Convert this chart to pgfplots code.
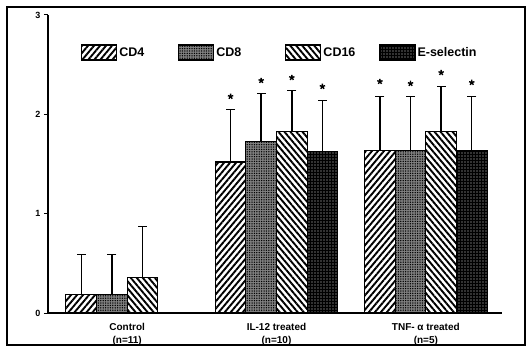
\documentclass[border=0pt]{standalone}
\usepackage{fontspec}
\setmainfont{Liberation Sans}
\usepackage{pgfplots}
\pgfplotsset{compat=1.18}
\usetikzlibrary{patterns,patterns.meta}
\begin{document}
\begin{tikzpicture}
\useasboundingbox (0pt,0pt) rectangle (529pt,351pt);
\draw[line width=1.4pt] (7pt,6pt) rectangle (525pt,344pt);
\begin{axis}[
  at={(48pt,38pt)}, anchor=south west,
  width=454pt, height=298pt, scale only axis,
  xmin=-0.53, xmax=2.51, ymin=0, ymax=3,
  axis lines=left, axis line style={-, line width=1.3pt},
  xtick={0,1,2},
  xticklabels={{Control\\(n=11)},{IL-12 treated\\(n=10)},{TNF- α treated\\(n=5)}},
  xticklabel style={align=center, font=\bfseries\fontsize{10}{13.5}\selectfont, yshift=-2.5pt},
  x tick style={draw=none},
  ytick={0,1,2,3},
  yticklabel style={font=\bfseries\fontsize{9}{10}\selectfont},
  y tick style={line width=1pt, black},
  tick align=outside, major tick length=4pt,
  /pgf/number format/assume math mode=true,
  legend columns=4,
  legend style={draw=none, fill=none, at={(rel axis cs:0.066,0.874)}, anchor=west,
    font=\bfseries\fontsize{12.5}{13}\selectfont,
    /tikz/column 2/.style={column sep=32pt},
    /tikz/column 4/.style={column sep=42pt},
    /tikz/column 6/.style={column sep=22pt}},
  mybar/.style={ybar, bar width=0.205, draw=black, line width=1.1pt,
    legend image code/.code={\draw[##1] (0pt,-7.5pt) rectangle (35pt,7.5pt);}},
]
\addplot[mybar, bar shift=-0.3075, fill=white,
  postaction={pattern={Lines[angle=50,distance=4.6pt,line width=1.9pt]}, pattern color=black}]
  coordinates {(0,0.19) (1,1.52) (2,1.64)};
\addlegendentry{CD4}
\addplot[mybar, bar shift=-0.1025, fill=black!50,
  postaction={pattern={Dots[distance=2.4pt,radius=0.75pt]}, pattern color=black}]
  coordinates {(0,0.19) (1,1.73) (2,1.64)};
\addlegendentry{CD8}
\addplot[mybar, bar shift=0.1025, fill=white,
  postaction={pattern={Lines[angle=-50,distance=4.6pt,line width=1.9pt]}, pattern color=black}]
  coordinates {(0,0.36) (1,1.83) (2,1.83)};
\addlegendentry{CD16}
\addplot[mybar, bar shift=0.3075, fill=black,
  postaction={pattern={Dots[distance=3pt,radius=0.6pt]}, pattern color=white!85!black}]
  coordinates {(1,1.63) (2,1.64)};
\addlegendentry{E-selectin}
% error bars (upper only): stems from the bar top to the upper end
\addplot[black, line width=1.4pt, forget plot, unbounded coords=jump] coordinates {
  (-0.3075,0.19) (-0.3075,0.59) (-0.3075,nan)
  (-0.1025,0.19) (-0.1025,0.59) (-0.1025,nan)
  (0.1025,0.36) (0.1025,0.87) (0.1025,nan)
  (0.6925,1.52) (0.6925,2.05) (0.6925,nan)
  (0.8975,1.73) (0.8975,2.21) (0.8975,nan)
  (1.1025,1.83) (1.1025,2.24) (1.1025,nan)
  (1.3075,1.63) (1.3075,2.14) (1.3075,nan)
  (1.6925,1.64) (1.6925,2.18) (1.6925,nan)
  (1.8975,1.64) (1.8975,2.18) (1.8975,nan)
  (2.1025,1.83) (2.1025,2.28) (2.1025,nan)
  (2.3075,1.64) (2.3075,2.18)};
% caps of the error bars
\addplot[only marks, mark=-, mark size=4.5pt, mark options={line width=1.6pt, black}, forget plot]
  coordinates {(-0.3075,0.59) (-0.1025,0.59) (0.1025,0.87)
  (0.6925,2.05) (0.8975,2.21) (1.1025,2.24) (1.3075,2.14)
  (1.6925,2.18) (1.8975,2.18) (2.1025,2.28) (2.3075,2.18)};
% significance stars
\addplot[only marks, mark=star, mark size=2.8pt, mark options={line width=1.4pt, black}, forget plot]
  coordinates {(0.6925,2.18) (0.8975,2.34) (1.1025,2.37) (1.3075,2.28)
               (1.6925,2.33) (1.8975,2.31) (2.1025,2.42) (2.3075,2.32)};
\node[rotate=90, font=\bfseries\fontsize{10.5}{12}\selectfont] at (rel axis cs:-0.042,0.859) {Score};
\node[anchor=west, font=\bfseries\fontsize{12}{12}\selectfont] at (rel axis cs:0.968,0) [yshift=-13pt] {Group};
\end{axis}
\end{tikzpicture}
\end{document}
